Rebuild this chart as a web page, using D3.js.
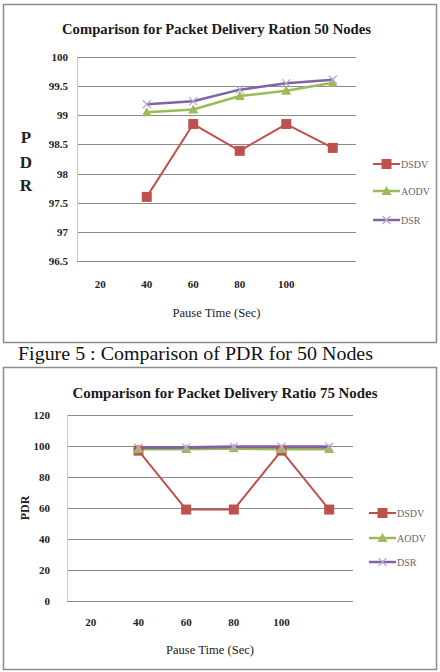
<!DOCTYPE html>
<html lang="en">
<head>
<meta charset="utf-8">
<script src="https://d3js.org/d3.v7.min.js"></script>
<style>
  body { margin: 0; background: #fff; }
  svg text { font-family: "Liberation Serif", serif !important; }
</style>
</head>
<body>
<script>
// categories and values
var pauseTimes = ["20", "40", "60", "80", "100", ""];
var seriesNames = ["DSDV", "AODV", "DSR"];

var dsdv50 = [null, 97.6, 98.85, 98.39, 98.85, 98.44];
var aodv50 = [null, 99.05, 99.1, 99.33, 99.42, 99.56];
var dsr50  = [null, 99.19, 99.24, 99.44, 99.55, 99.61];
var ticks50 = [96.5, 97, 97.5, 98, 98.5, 99, 99.5, 100];

var dsdv75 = [null, 97, 59, 59, 97, 59];
var aodv75 = [null, 98, 98, 98.5, 98, 98];
var dsr75  = [null, 99, 99, 99.5, 99.5, 99.5];
var ticks75 = [0, 20, 40, 60, 80, 100, 120];

var colors = ["#c0504d", "#9bbb59", "#8064a2"];

var svg = d3.select("body").append("svg")
    .attr("width", 440)
    .attr("height", 672);

function drawChart(cfg) {
  var g = svg.append("g");

  // outer frame
  g.append("rect")
      .attr("x", cfg.frame[0] + 0.5).attr("y", cfg.frame[1] + 0.5)
      .attr("width", cfg.frame[2]).attr("height", cfg.frame[3])
      .attr("fill", "#fff").attr("stroke", "#8c8c8c").attr("stroke-width", 1.5);

  var x = d3.scaleBand().domain(pauseTimes).range([cfg.left, cfg.right]);
  var y = d3.scaleLinear().domain(cfg.domain).range([cfg.bottom, cfg.top]);

  g.append("text")
      .attr("x", (cfg.left + cfg.right) / 2 + cfg.titleDx).attr("y", cfg.titleY)
      .attr("text-anchor", "middle")
      .attr("font-size", 14).attr("font-weight", "bold").attr("fill", "#1a1a1a")
      .attr("textLength", cfg.titleLen).attr("lengthAdjust", "spacingAndGlyphs")
      .text(cfg.title);

  // gridlines
  g.selectAll(".grid").data(cfg.ticks).enter().append("line")
      .attr("x1", cfg.left).attr("x2", cfg.right)
      .attr("y1", function(d) { return Math.round(y(d)) + 0.5; })
      .attr("y2", function(d) { return Math.round(y(d)) + 0.5; })
      .attr("stroke", "#8a8a8a").attr("stroke-width", 1.2);

  g.append("line")
      .attr("x1", cfg.left + 0.5).attr("x2", cfg.left + 0.5)
      .attr("y1", y(cfg.domain[1])).attr("y2", y(cfg.domain[0]))
      .attr("stroke", "#c8c8c8");

  // y tick labels
  var yAxis = d3.axisLeft(y).tickValues(cfg.ticks).tickSize(0).tickPadding(cfg.tickPad)
      .tickFormat(function(d) { return String(d); });
  var ya = g.append("g").attr("transform", "translate(" + cfg.left + ",0)").call(yAxis);
  ya.attr("font-family", null);
  ya.select(".domain").remove();
  ya.selectAll("text")
      .attr("font-size", 11)
      .attr("font-weight", "bold").attr("fill", "#222");

  // x tick labels
  var xAxis = d3.axisBottom(x).tickSize(0).tickPadding(0);
  var xa = g.append("g").attr("transform", "translate(0," + cfg.xLabelY + ")").call(xAxis);
  xa.attr("font-family", null);
  xa.select(".domain").remove();
  xa.selectAll("text")
      .attr("font-size", 11)
      .attr("font-weight", "bold").attr("fill", "#222");

  g.append("text")
      .attr("x", (cfg.left + cfg.right) / 2).attr("y", cfg.xTitleY)
      .attr("text-anchor", "middle").attr("font-size", 12).attr("fill", "#222")
      .attr("textLength", 88).attr("lengthAdjust", "spacingAndGlyphs")
      .text("Pause Time (Sec)");

  cfg.yTitle(g);

  var line = d3.line()
      .defined(function(d) { return d != null; })
      .x(function(d, i) { return x(pauseTimes[i]) + x.bandwidth() / 2; })
      .y(function(d) { return y(d); });

  cfg.series.forEach(function(vals, s) {
    g.append("path").datum(vals)
        .attr("d", line).attr("fill", "none")
        .attr("stroke", colors[s]).attr("stroke-width", s === 0 ? 2 : cfg.lineW)
        .attr("stroke-linejoin", "round");
  });

  cfg.series.forEach(function(vals, s) {
    vals.forEach(function(v, i) {
      if (v == null) return;
      marker(g, s, x(pauseTimes[i]) + x.bandwidth() / 2, y(v));
    });
  });

  // legend
  seriesNames.forEach(function(name, s) {
    var ly = cfg.legendY[s];
    g.append("line")
        .attr("x1", cfg.legendX).attr("x2", cfg.legendX + 27)
        .attr("y1", ly).attr("y2", ly)
        .attr("stroke", colors[s]).attr("stroke-width", s === 0 ? 2 : 2.5);
    marker(g, s, cfg.legendX + 13.5, ly);
    g.append("text")
        .attr("x", cfg.legendX + 28).attr("y", ly + 3.5)
        .attr("font-size", 10).attr("fill", "#666")
        .text(name);
  });
}

function marker(g, s, cx, cy) {
  if (s === 0) {
    g.append("rect")
        .attr("x", cx - 5).attr("y", cy - 5).attr("width", 10).attr("height", 10)
        .attr("fill", colors[0]);
  } else if (s === 1) {
    g.append("path")
        .attr("d", "M" + cx + "," + (cy - 5) + "L" + (cx + 5) + "," + (cy + 4) + "L" + (cx - 5) + "," + (cy + 4) + "Z")
        .attr("fill", colors[1]);
  } else {
    g.append("path")
        .attr("d", "M" + (cx - 4) + "," + (cy - 4) + "L" + (cx + 4) + "," + (cy + 4) +
                   "M" + (cx + 4) + "," + (cy - 4) + "L" + (cx - 4) + "," + (cy + 4))
        .attr("stroke", "#b4a7d0").attr("stroke-width", 1.2).attr("fill", "none");
  }
}

drawChart({
  frame: [3, 4, 433, 338],
  left: 77, right: 356, top: 57, bottom: 261,
  domain: [96.5, 100], ticks: ticks50, tickPad: 9,
  title: "Comparison for Packet Delivery Ration 50 Nodes",
  titleY: 34, titleDx: 0, titleLen: 309,
  xLabelY: 280, xTitleY: 317,
  series: [dsdv50, aodv50, dsr50], lineW: 2.5,
  legendX: 373, legendY: [164, 191, 220],
  yTitle: function(g) {
    ["P", "D", "R"].forEach(function(c, i) {
      g.append("text")
          .attr("x", 26).attr("y", [143, 168, 191][i])
          .attr("text-anchor", "middle").attr("font-size", 17)
          .attr("font-weight", "bold").attr("fill", "#222")
          .text(c);
    });
  }
});

drawChart({
  frame: [3, 367, 433, 302],
  left: 67, right: 353, top: 415, bottom: 601,
  domain: [0, 120], ticks: ticks75, tickPad: 17,
  title: "Comparison for Packet Delivery Ratio 75 Nodes",
  titleY: 398, titleDx: 15, titleLen: 305,
  xLabelY: 618, xTitleY: 654,
  series: [dsdv75, aodv75, dsr75], lineW: 3,
  legendX: 369, legendY: [513, 538, 562],
  yTitle: function(g) {
    g.append("text")
        .attr("transform", "translate(29,508) rotate(-90)")
        .attr("text-anchor", "middle").attr("font-size", 12)
        .attr("font-weight", "bold").attr("fill", "#222")
        .text("PDR");
  }
});

svg.append("text")
    .attr("x", 18).attr("y", 360)
    .attr("font-size", 18).attr("fill", "#111")
    .attr("textLength", 355).attr("lengthAdjust", "spacingAndGlyphs")
    .text("Figure 5 : Comparison of PDR for 50 Nodes");
</script>
</body>
</html>
